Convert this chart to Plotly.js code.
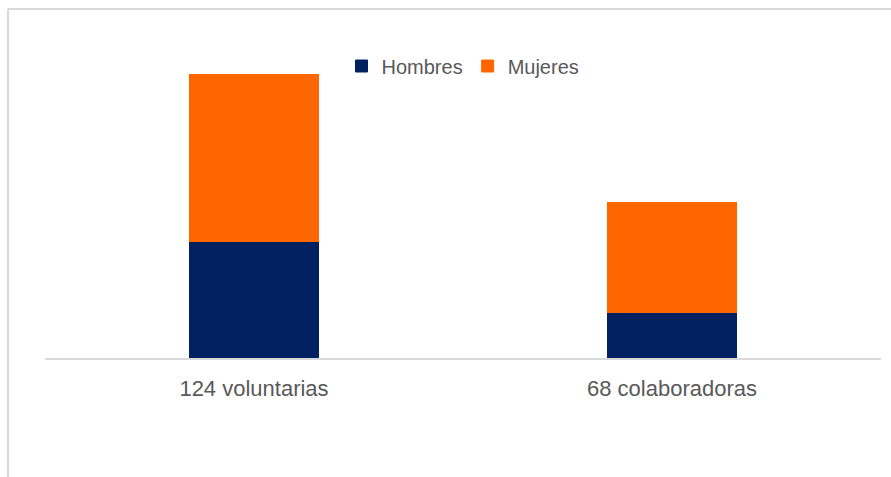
<!DOCTYPE html>
<html><head><meta charset="utf-8">
<script src="https://cdn.plot.ly/plotly-3.0.1.min.js"></script>
<style>body{margin:0;padding:0;background:#fff}#chart{width:891px;height:477px}</style>
</head><body><div id="chart"></div>
<script>
const categories = ["124 voluntarias", "68 colaboradoras"];
const hombres = [51, 20];
const mujeres = [73, 48];
const seriesNames = ["Hombres", "Mujeres"];

const W = 891, H = 477, L = 45, R = 10, T = 38, B = 119;
const pw = W - L - R, ph = H - T - B;
const px = v => (v - L) / pw;
const py = v => (H - B - v) / ph;

const traces = [
  {type: "bar", name: seriesNames[0], x: categories, y: hombres, marker: {color: "#002060", line: {color: "#002060", width: 1}}, hoverinfo: "none"},
  {type: "bar", name: seriesNames[1], x: categories, y: mujeres, marker: {color: "#FF6600", line: {color: "#FF6600", width: 1}}, hoverinfo: "none"}
];

const layout = {
  width: W, height: H,
  margin: {l: L, r: R, t: T, b: B, pad: 0},
  paper_bgcolor: "#fff", plot_bgcolor: "#fff",
  barmode: "stack", bargap: 0.69,
  showlegend: true,
  legend: {orientation: "h", x: 0.5, xanchor: "center", y: py(66), yanchor: "middle",
           font: {family: "Liberation Sans", size: 20, color: "#595959"}, traceorder: "normal", itemwidth: 30},
  xaxis: {showline: true, linecolor: "#d9d9d9", linewidth: 1.5, ticks: "", showgrid: false, zeroline: false,
          ticklabelstandoff: 10,
          tickfont: {family: "Liberation Sans", size: 22, color: "#595959"}, fixedrange: true},
  yaxis: {range: [0, 140], visible: false, showgrid: false, zeroline: false, fixedrange: true},
  shapes: [
    {type: "line", xref: "paper", yref: "paper", x0: px(8), x1: px(8), y0: py(9), y1: py(H + 5), line: {color: "#d9d9d9", width: 2}},
    {type: "line", xref: "paper", yref: "paper", x0: px(8), x1: px(W + 5), y0: py(9), y1: py(9), line: {color: "#d9d9d9", width: 2}}
  ]
};

Plotly.newPlot("chart", traces, layout, {displayModeBar: false, staticPlot: true});
</script></body></html>
